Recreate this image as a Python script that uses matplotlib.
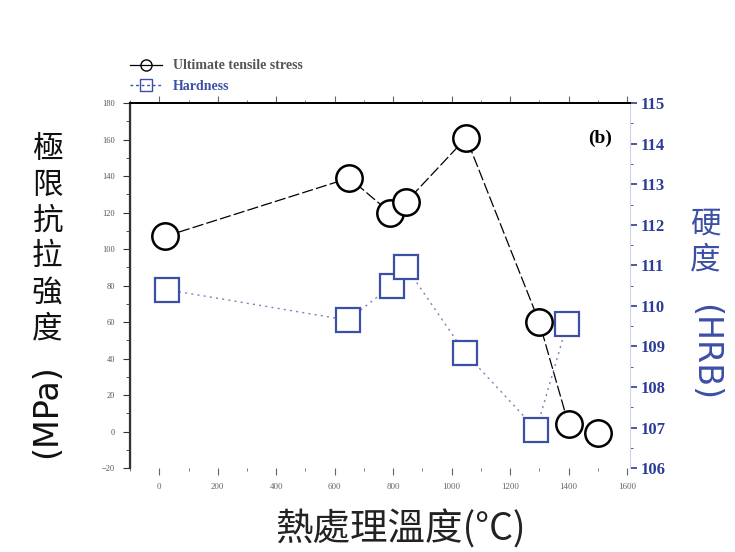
import numpy as np
import matplotlib.pyplot as plt
import matplotlib.ticker as mticker
from matplotlib.lines import Line2D

plt.rcParams['font.family'] = ['Noto Sans CJK TC', 'DejaVu Sans']

# ultimate tensile stress (left axis)
uts_temp = [20, 650, 790, 845, 1050, 1300, 1400, 1500]
uts_mpa = [107, 139, 120, 126, 161, 60, 4, -1]

# hardness (right axis)
hrb_temp = [25, 645, 795, 845, 1045, 1290, 1395]
hrb_val = [110.4, 109.65, 110.5, 110.95, 108.85, 106.95, 109.55]

x_ticks = [0, 200, 400, 600, 800, 1000, 1200, 1400, 1600]
left_ticks = [-20, 0, 20, 40, 60, 80, 100, 120, 140, 160, 180]
right_ticks = [106, 107, 108, 109, 110, 111, 112, 113, 114, 115]

BLUE = "#3b4fa6"
TICKBLUE = "#2b3c96"
serif = ["Liberation Serif", "DejaVu Serif"]

fig = plt.figure(figsize=(7.35, 5.52), dpi=100)
ax = fig.add_axes([0.177, 0.152, 0.680, 0.661])
ax2 = ax.twinx()

ax.plot(uts_temp, uts_mpa, color="black", lw=0.9, ls=(0, (9, 2.5)),
        marker="o", ms=19, mfc="white", mec="black", mew=1.8, zorder=3)
ax2.plot(hrb_temp, hrb_val, color="#7a86b8", lw=1.0, ls=(0, (1.5, 3)),
         marker="s", ms=17, mfc="white", mec=BLUE, mew=1.6, zorder=2)
ax.set_zorder(ax2.get_zorder() + 1)
ax.patch.set_visible(False)

ax.set_xlim(-100, 1610)
ax.set_ylim(-20, 180)
ax2.set_ylim(106, 115)

ax.set_xticks(x_ticks)
ax.xaxis.set_minor_locator(mticker.MultipleLocator(100))
ax.set_yticks(left_ticks)
ax.yaxis.set_minor_locator(mticker.MultipleLocator(10))
ax2.set_yticks(right_ticks)
ax2.yaxis.set_minor_locator(mticker.MultipleLocator(0.5))

for lab in ax.get_xticklabels() + ax.get_yticklabels():
    lab.set_family(serif)
ax.tick_params(axis="x", which="both", direction="out", labelsize=6.5, colors="#666666", pad=6,
               top=True)
ax.tick_params(axis="x", which="major", length=5)
ax.tick_params(axis="x", which="minor", length=2)
ax.tick_params(axis="y", which="both", direction="out", labelsize=6, colors="#555555", pad=6)
ax.tick_params(axis="y", which="major", length=5, color="#333333")
ax.tick_params(axis="y", which="minor", length=3, color="#333333")

ax2.tick_params(axis="y", which="both", direction="out", colors=TICKBLUE, labelsize=12, pad=3)
ax2.tick_params(axis="y", which="major", length=5, width=1.2)
ax2.tick_params(axis="y", which="minor", length=2)
for lab in ax2.get_yticklabels():
    lab.set_family(serif)
    lab.set_fontweight("bold")

ax.spines["bottom"].set_visible(False)
ax2.spines["bottom"].set_visible(False)
ax.spines["left"].set_linewidth(1.6)
ax.spines["left"].set_color("#333333")
ax.spines["top"].set_linewidth(1.4)
ax2.spines["top"].set_linewidth(1.4)
ax2.spines["right"].set_color("#cfd3e6")
ax.spines["right"].set_visible(False)

ax.text(0.94, 0.905, "(b)", transform=ax.transAxes, fontsize=14, fontweight="bold",
        family=serif, ha="center", va="center")

# legend
handles = [
    Line2D([], [], color="black", lw=0.9, marker="o", ms=8, mfc="none", mec="black"),
    Line2D([], [], color=BLUE, lw=1.0, ls=(0, (2, 2)), marker="s", ms=8, mfc="none", mec=BLUE),
]
leg = fig.legend(handles, ["Ultimate tensile stress", "Hardness"], loc="upper left",
                 bbox_to_anchor=(0.16, 0.915), frameon=False,
                 prop={"family": serif, "size": 10, "weight": "bold"},
                 handlelength=2.3, labelspacing=0.55, handletextpad=0.8)
leg.get_texts()[0].set_color("#555555")
leg.get_texts()[1].set_color(BLUE)

# left y label: stacked CJK + rotated unit
fig.text(0.064, 0.567, "極\n限\n抗\n拉\n強\n度", fontsize=22,
         ha="center", va="center", linespacing=1.2, color="#111111")
fig.text(0.064, 0.255, "(MPa)", fontsize=24, rotation=90,
         ha="center", va="center", color="#111111", family=["DejaVu Sans"])

# right y label
fig.text(0.959, 0.562, "硬\n度", fontsize=22, ha="center", va="center",
         linespacing=1.2, color=BLUE)
fig.text(0.959, 0.362, "(HRB)", fontsize=24, rotation=-90,
         ha="center", va="center", color=BLUE, family=["DejaVu Sans"])

fig.text(0.545, 0.04, "熱處理溫度(°C)", fontsize=27, ha="center", va="center", color="#222222")

fig.savefig("out.png", dpi=100)
